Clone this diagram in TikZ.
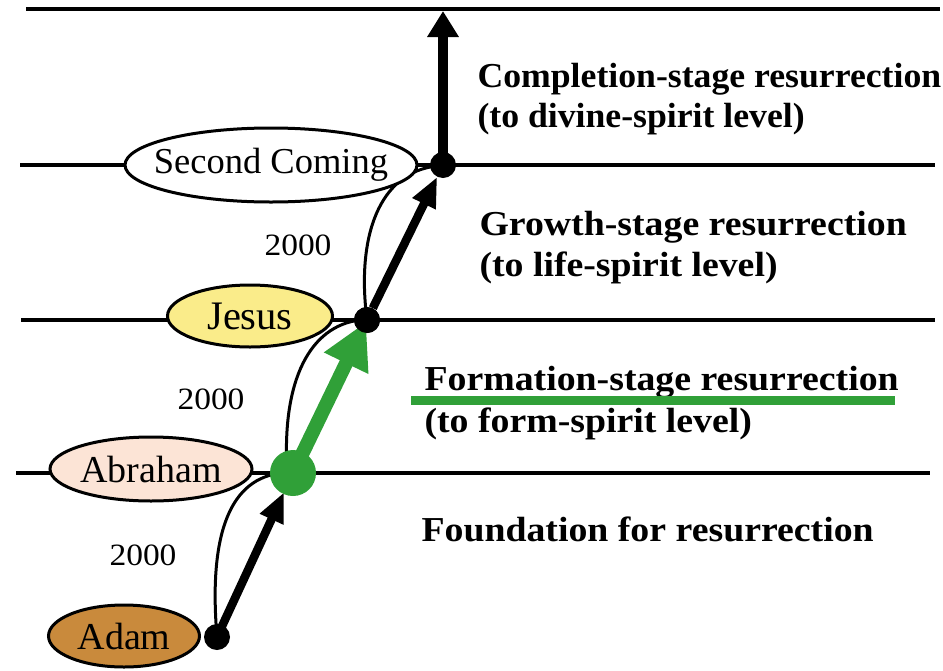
\documentclass[tikz,border=0pt]{standalone}
\usepackage{fontspec}
\setmainfont{Liberation Serif}
\newfontfamily\lblfont[FakeStretch=1.08]{Liberation Serif}
\newfontfamily\lblfontc[FakeStretch=1.02]{Liberation Serif}
\newfontfamily\yrsfont[FakeStretch=1.08]{Liberation Serif}
\usetikzlibrary{arrows.meta,shapes.geometric}
\definecolor{adamc}{HTML}{C98A3C}
\definecolor{abrac}{HTML}{FCE4D6}
\definecolor{jesc}{HTML}{FAEC8A}
\definecolor{grn}{HTML}{30A038}
\tikzset{
  level/.style={line width=3.5pt, line cap=butt},
  person/.style={ellipse, draw, line width=3pt, inner sep=0pt, label={[font=\fontsize{38}{40}\selectfont]center:#1}},
  dot/.style={circle, fill=black, inner sep=0pt, minimum size=26pt},
  thin/.style={line width=3pt},
  thick/.style={line width=8.5pt, -{Triangle[length=30pt,width=24pt]}},
  yrs/.style={font=\yrsfont\fontsize{31}{34}\selectfont},
  lbl/.style={anchor=base west, font=\lblfont\bfseries\fontsize{35}{38}\selectfont},
  lblc/.style={anchor=base west, font=\lblfontc\bfseries\fontsize{35}{38}\selectfont},
}
\begin{document}
\begin{tikzpicture}[x=1pt,y=-1pt]
\useasboundingbox (0,0) rectangle (943,670);
% levels
\draw[level] (26,9) -- (940,9);
\draw[level] (20,165) -- (935,165);
\draw[level] (21,320) -- (935,320);
\draw[level] (16,473) -- (930,473);
% dots (coordinates)
\coordinate (p1) at (217,637);
\coordinate (p2) at (293,473);
\coordinate (p3) at (367,320);
\coordinate (p4) at (443,165);
\coordinate (top) at (443,11);
% thin curves
\draw[thin] (p1) .. controls (208,530) and (232,478) .. (282,473);
\draw[thin] (287,470) .. controls (282,380) and (310,326) .. (360,320);
\draw[thin] (p3) .. controls (356,235) and (380,172) .. (437,166);
% dots
\node[dot] (d1) at (p1) {};
\node[dot] (d3) at (p3) {};
\node[dot] (d4) at (p4) {};
% thick arrows
\draw[thick, shorten >=21pt] (d1.center) -- (p2);
\draw[thick] (d3) -- (d4);
\draw[line width=9.5pt, -{Triangle[length=26pt,width=30pt]}] (d4.center) -- (top);
% green
\draw[grn, line width=14pt, -{Triangle[length=46pt,width=46pt]}, shorten >=2pt] (p2) -- (p3);
\node[circle, fill=grn, inner sep=0pt, minimum size=46pt] (d2) at (p2) {};
\node[dot] at (p3) {};
% people
\node[person=Adam, fill=adamc, minimum width=151pt, minimum height=62pt] (adam) at (124,636) {};
\node[person=Abraham, fill=abrac, minimum width=202pt, minimum height=64pt] (abraham) at (151,469) {};
\node[person={\fontsize{40.5}{42}\selectfont Jesus}, fill=jesc, minimum width=165pt, minimum height=62pt] (jesus) at (250,316) {};
\node[person={\fontsize{36.5}{40}\selectfont Second Coming}, fill=white, minimum width=292pt, minimum height=74pt] (second) at (271,165) {};
% years
\node[yrs] (y1) at (143,555) {2000};
\node[yrs] (y2) at (211,399) {2000};
\node[yrs] (y3) at (298,245) {2000};
% labels
\node[lblc] (c1) at (474,87) {Completion-stage resurrection};
\node[lblc] (c2) at (474,127) {(to divine-spirit level)};
\node[lbl] (g1) at (476,235) {Growth-stage resurrection};
\node[lbl] (g2) at (476,276) {(to life-spirit level)};
\node[lbl] (f1) at (421,390) {Formation-stage resurrection};
\node[lbl] (f2) at (421,432) {(to form-spirit level)};
\coordinate (u1) at (411,400);
\coordinate (u2) at (895,400);
\draw[grn, line width=9pt] (u1) -- (u2);
\node[lbl] (fd) at (418,541) {Foundation for resurrection};
\end{tikzpicture}
\end{document}
